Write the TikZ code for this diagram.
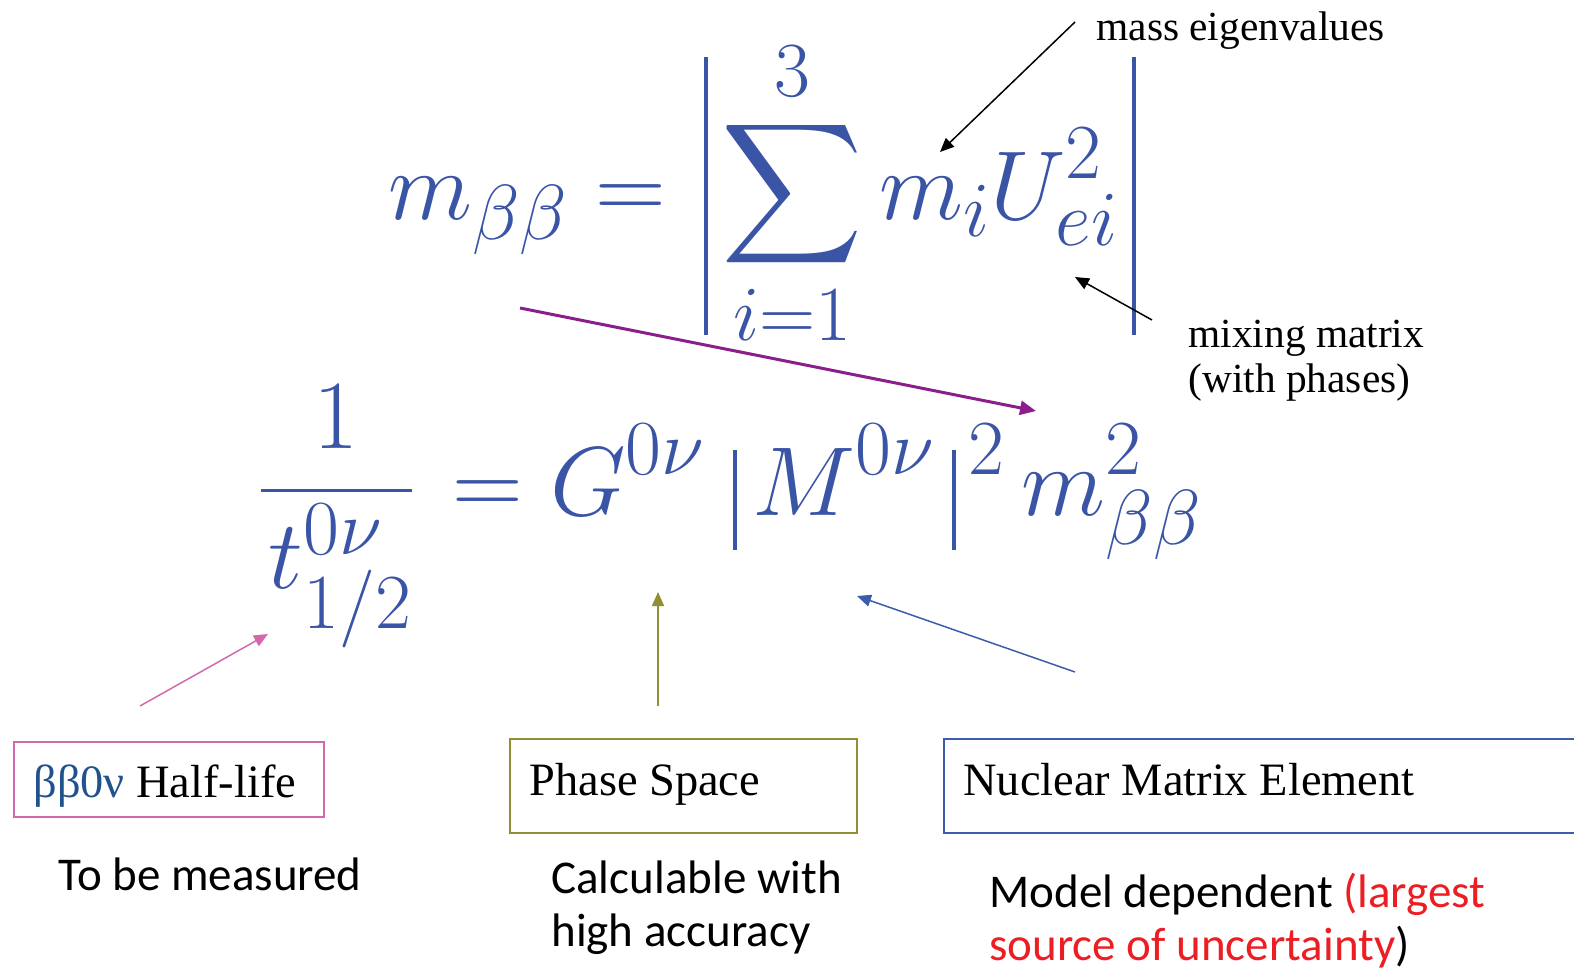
\RequirePackage{fix-cm}
\documentclass[tikz,border=0pt]{standalone}
\usepackage{amsmath}
\usepackage{fontspec}
\DeclareFontFamily{OMX}{cmex}{}
\DeclareFontShape{OMX}{cmex}{m}{n}{<-> cmex10}{}
\DeclareMathSizes{49}{49}{39}{30}
\newfontfamily\serifTNR{Liberation Serif}
\newfontfamily\sansCal{Carlito}
\usetikzlibrary{arrows.meta}
\definecolor{formblue}{RGB}{58,84,166}
\definecolor{boxpink}{RGB}{212,104,172}
\definecolor{boxolive}{RGB}{146,142,52}
\definecolor{boxblue}{RGB}{62,92,172}
\definecolor{arrpurple}{RGB}{140,30,140}
\definecolor{greekblue}{RGB}{34,82,142}
\definecolor{redtxt}{RGB}{236,30,36}
% absolute-value bars of fixed size
\newcommand{\bigbarA}{\rule[-58pt]{2pt}{139pt}}
\newcommand{\bigbarB}{\rule[-17.5pt]{2pt}{50pt}}
\tikzset{
  formula/.style={inner sep=0pt, text=formblue, font={\fontsize{49}{59}\selectfont}},
  note/.style={inner sep=0pt, align=left, font={\serifTNR\fontsize{20.7}{22.5}\selectfont}},
  labelbox/.style={draw, line width=0.8pt, inner sep=0pt},
  boxtext/.style={inner sep=0pt, font={\serifTNR\fontsize{23.2}{27}\selectfont}},
  caltext/.style={inner sep=0pt, align=left, font={\sansCal\fontsize{23.5}{26.5}\selectfont}},
  arr/.style={-{Triangle[length=7pt,width=6pt]}, line width=0.75pt},
}
\begin{document}
\begin{tikzpicture}[x=0.5pt,y=-0.5pt]
\useasboundingbox (0,0) rectangle (1574,971);
\clip (0,0) rectangle (1574,971);

% formulas
\node[formula, anchor=base west] (mbb) at (388,219)
  {$\displaystyle m_{\beta\beta} =\mskip2mu \mathopen{\bigbarA}\mskip2.5mu\sum_{i=1}^{3} m_i U_{ei}^2\mskip2.5mu\mathclose{\bigbarA}$};
\node[formula, anchor=base west] (rate) at (258,515)
  {$\displaystyle \frac{1}{\mskip1.5mu t^{0\nu}_{1/2}} \mskip2mu= G^{0\nu}\mskip5mu\mathopen{\bigbarB}\mskip3mu M^{0\nu}\mskip3mu{\mathclose{\bigbarB}}^{\,2}\mskip3mu m_{\beta\beta}^{2}$};

% annotations
\node[note, anchor=base west] (masseig) at (1096,40) {mass eigenvalues};
\node[note, anchor=base west] (mixing) at (1188,392) {mixing matrix\\(with phases)};

% boxes
\path[labelbox, draw=boxpink] (14,742) rectangle (324,817);
\node[boxtext, anchor=base west] (halflife) at (33,797) {\textcolor{greekblue}{ββ0ν} Half-life};
\path[labelbox, draw=boxolive] (510,739) rectangle (857,833);
\node[boxtext, anchor=base west] (phase) at (529,795) {Phase Space};
\path[labelbox, draw=boxblue] (944,739) rectangle (1590,833);
\node[boxtext, anchor=base west] (nme) at (963,795) {Nuclear Matrix Element};

% descriptions
\node[caltext, anchor=base west] (measured) at (58,890) {To be measured};
\node[caltext, anchor=base west] (calc) at (551,946) {Calculable with\\high accuracy};
\node[caltext, anchor=base west] (model) at (989,960) {Model dependent \textcolor{redtxt}{(largest}\\\textcolor{redtxt}{source of uncertainty})};

% arrow end points
\coordinate (a1s) at (1075,22);  \coordinate (a1e) at (940,152);
\coordinate (a2s) at (1152,320); \coordinate (a2e) at (1075,277);
\coordinate (a3s) at (520,308);  \coordinate (a3e) at (1036,411);
\coordinate (a4s) at (140,706);  \coordinate (a4e) at (268,634);
\coordinate (a5s) at (658,706);  \coordinate (a5e) at (658,592);
\coordinate (a6s) at (1075,672); \coordinate (a6e) at (857,596);

\draw[arr, black] (a1s) -- (a1e);
\draw[arr, black] (a2s) -- (a2e);
\draw[arr, arrpurple, line width=1.5pt, -{Triangle[length=8pt,width=7pt]}] (a3s) -- (a3e);
\draw[arr, boxpink] (a4s) -- (a4e);
\draw[arr, boxolive] (a5s) -- (a5e);
\draw[arr, boxblue] (a6s) -- (a6e);
\end{tikzpicture}
\end{document}
